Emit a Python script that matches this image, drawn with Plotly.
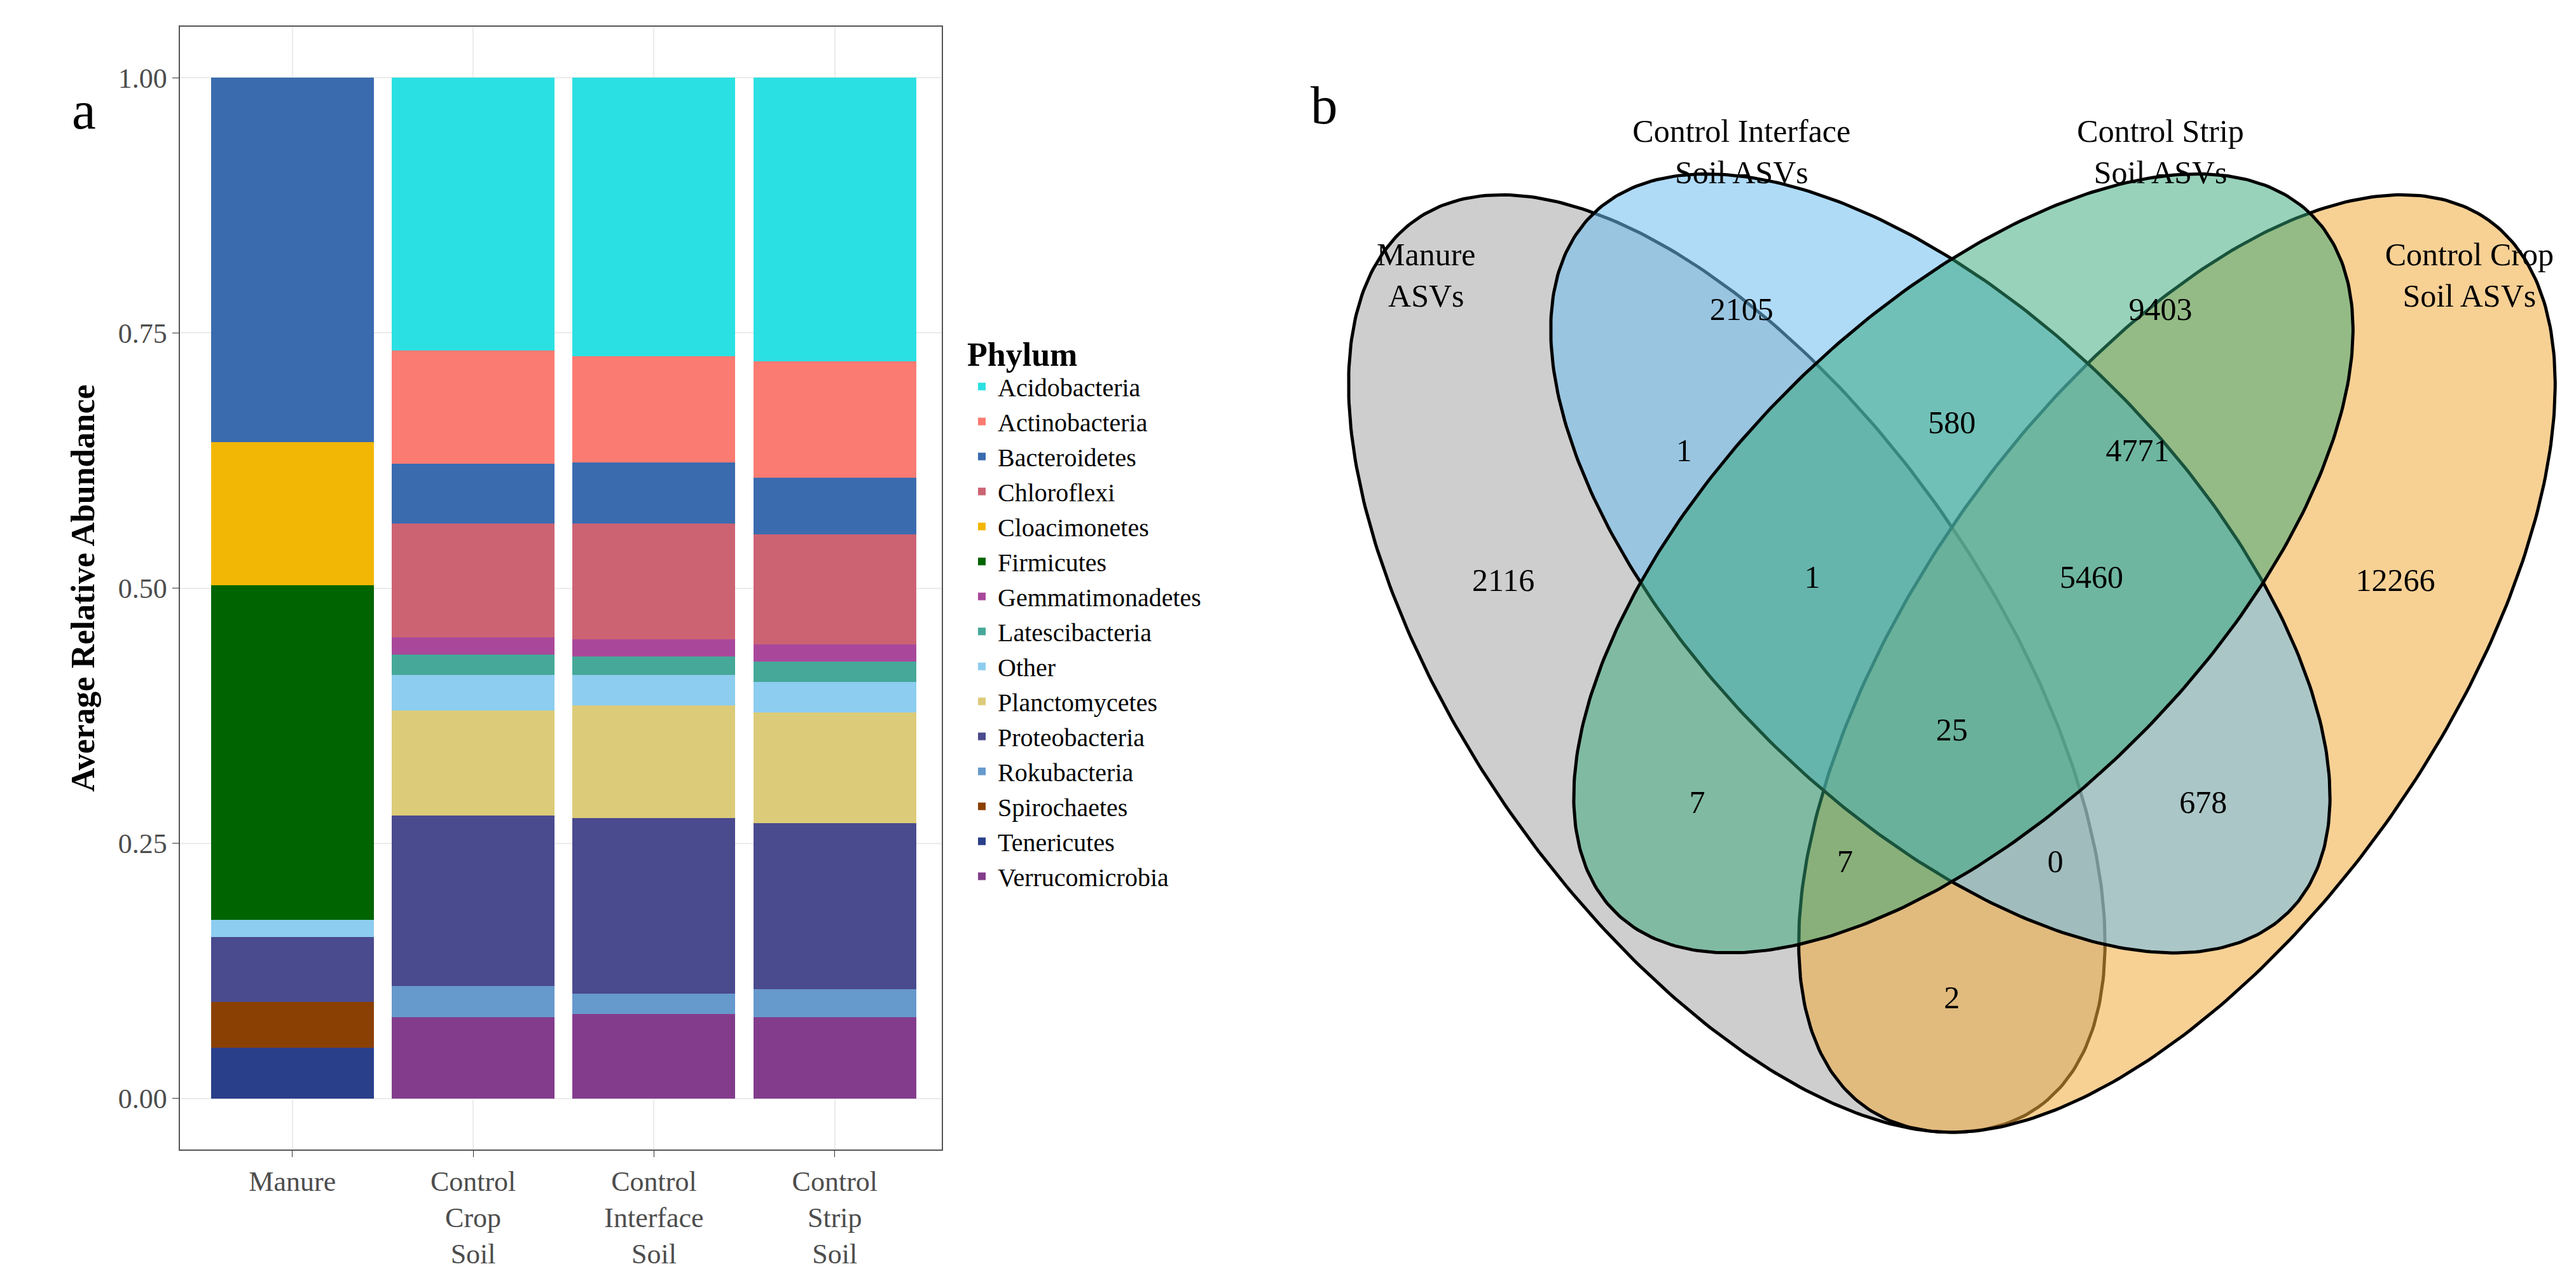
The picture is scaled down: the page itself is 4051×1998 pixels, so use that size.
import numpy as np
import plotly.graph_objects as go

# %% Data - panel a
samples = ["Manure", "Control<br>Crop<br>Soil", "Control<br>Interface<br>Soil", "Control<br>Strip<br>Soil"]

# bottom-to-top stacking order
phyla = ["Verrucomicrobia", "Tenericutes", "Spirochaetes", "Rokubacteria", "Proteobacteria",
         "Planctomycetes", "Other", "Latescibacteria", "Gemmatimonadetes", "Firmicutes",
         "Cloacimonetes", "Chloroflexi", "Bacteroidetes", "Actinobacteria", "Acidobacteria"]

verrucomicrobia = [0, 0.080, 0.083, 0.080]
tenericutes = [0.050, 0, 0, 0]
spirochaetes = [0.045, 0, 0, 0]
rokubacteria = [0, 0.030, 0.020, 0.027]
proteobacteria = [0.063, 0.167, 0.172, 0.163]
planctomycetes = [0, 0.103, 0.110, 0.108]
other = [0.017, 0.035, 0.030, 0.030]
latescibacteria = [0, 0.020, 0.018, 0.020]
gemmatimonadetes = [0, 0.017, 0.017, 0.017]
firmicutes = [0.328, 0, 0, 0]
cloacimonetes = [0.140, 0, 0, 0]
chloroflexi = [0, 0.111, 0.113, 0.108]
bacteroidetes = [0.357, 0.059, 0.060, 0.055]
actinobacteria = [0, 0.111, 0.104, 0.114]
acidobacteria = [0, 0.267, 0.273, 0.278]

values = [verrucomicrobia, tenericutes, spirochaetes, rokubacteria, proteobacteria,
          planctomycetes, other, latescibacteria, gemmatimonadetes, firmicutes,
          cloacimonetes, chloroflexi, bacteroidetes, actinobacteria, acidobacteria]

colors = ["#833C8C", "#2A3F8A", "#8B4003", "#6699CC", "#4A4A8E",
          "#DCCB79", "#8DCDEF", "#46A899", "#A9489B", "#006400",
          "#F2B705", "#CC6373", "#3A6BAF", "#FA7B72", "#2BE0E3"]

# %% Data - panel b (Venn)
set_labels = ["Manure<br>ASVs", "Control Interface<br>Soil ASVs", "Control Strip<br>Soil ASVs", "Control Crop<br>Soil ASVs"]
counts = [2105, 9403, 1, 580, 4771, 2116, 1, 5460, 12266, 25, 7, 678, 7, 0, 2]

FONT = "Liberation Serif"
fig = go.Figure()

for name, vals, col in zip(phyla, values, colors):
    fig.add_trace(go.Bar(x=samples, y=vals, name=name, marker_color=col,
                         marker_line_width=0, xaxis="x", yaxis="y"))

# ellipses: (cx, cy, a, b, angle deg) in image-like units, y downward
ellipses = [
    (1048, 401, 330, 160, 55, "rgba(165,165,165,0.55)"),
    (1322, 401, 330, 160, -55, "rgba(240,170,60,0.55)"),
    (1178, 340, 300, 150, 45, "rgba(110,190,240,0.55)"),
    (1192, 340, 300, 150, -45, "rgba(50,165,120,0.5)"),
]
t = np.linspace(0, 2 * np.pi, 400)
for cx, cy, a, b, ang, col in ellipses:
    th = np.radians(ang)
    ex = cx + a * np.cos(t) * np.cos(th) - b * np.sin(t) * np.sin(th)
    ey = cy + a * np.cos(t) * np.sin(th) + b * np.sin(t) * np.cos(th)
    fig.add_trace(go.Scatter(x=ex, y=ey, mode="lines", fill="toself", fillcolor=col,
                             line=dict(color="black", width=5), showlegend=False,
                             hoverinfo="skip", xaxis="x2", yaxis="y2"))

label_pos = [(865, 166), (1057, 91), (1312, 91), (1500, 166)]
count_pos = [(1057, 187), (1312, 187), (1022, 273), (1185, 256), (1298, 273),
             (912, 352), (1100, 350), (1270, 350), (1455, 352), (1185, 443),
             (1030, 487), (1338, 487), (1120, 523), (1248, 523), (1185, 606)]
fig.add_trace(go.Scatter(x=[p[0] for p in count_pos], y=[p[1] for p in count_pos],
                         text=[str(c) for c in counts], mode="text",
                         textfont=dict(family=FONT, size=50, color="black"),
                         showlegend=False, hoverinfo="skip", xaxis="x2", yaxis="y2"))
fig.add_trace(go.Scatter(x=[p[0] for p in label_pos], y=[p[1] for p in label_pos],
                         text=set_labels, mode="text",
                         textfont=dict(family=FONT, size=50, color="black"),
                         showlegend=False, hoverinfo="skip", xaxis="x2", yaxis="y2"))

fig.update_layout(
    width=4051, height=1998, margin=dict(l=0, r=0, t=0, b=0),
    paper_bgcolor="white", plot_bgcolor="rgba(0,0,0,0)",
    barmode="stack", bargap=0.1,
    font=dict(family=FONT, color="black"),
    xaxis=dict(domain=[0.068, 0.3635], range=[-0.62, 3.59], type="category",
               showline=True, mirror=True, linecolor="#555", linewidth=2,
               showgrid=True, gridcolor="#ebebeb", gridwidth=2,
               tickfont=dict(size=44, color="#4d4d4d"), ticks="outside",
               ticklen=10, tickcolor="#333"),
    yaxis=dict(domain=[0.0995, 0.983], range=[-0.05, 1.05],
               tickvals=[0, 0.25, 0.5, 0.75, 1.0], ticktext=["0.00", "0.25", "0.50", "0.75", "1.00"],
               showline=True, mirror=True, linecolor="#555", linewidth=2,
               showgrid=True, gridcolor="#ebebeb", gridwidth=2, zeroline=False,
               tickfont=dict(size=44, color="#4d4d4d"), ticks="outside",
               ticklen=10, tickcolor="#333",
               title=dict(text="<b>Average Relative Abundance</b>", font=dict(size=52), standoff=20)),
    xaxis2=dict(domain=[0.49, 1], range=[0.49 * 1568, 1568], visible=False),
    yaxis2=dict(domain=[0, 1], range=[774, 0], visible=False),
    legend=dict(x=0.373, y=0.75, xanchor="left", yanchor="top", traceorder="reversed",
                title=dict(text="<b>Phylum</b>", font=dict(size=52)),
                font=dict(size=40), tracegroupgap=0, itemwidth=40),
    annotations=[
        dict(text="a", x=40 / 1568, y=1 - 45 / 774, xref="paper", yref="paper",
             showarrow=False, font=dict(size=85, family=FONT)),
        dict(text="b", x=803 / 1568, y=1 - 42 / 774, xref="paper", yref="paper",
             showarrow=False, font=dict(size=85, family=FONT)),
    ],
)

fig.write_html("out.html")
